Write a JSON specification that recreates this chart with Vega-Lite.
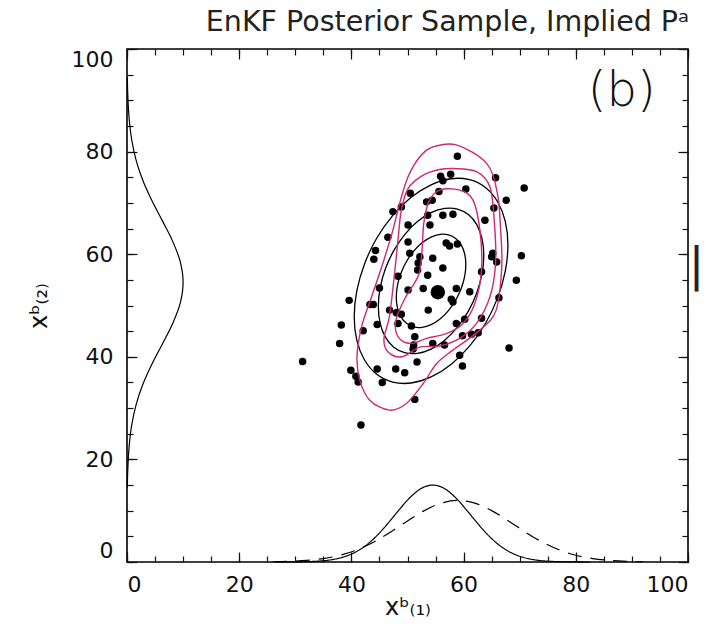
{
  "$schema": "https://vega.github.io/schema/vega-lite/v6.json",
  "width": 561,
  "height": 513,
  "autosize": {"type": "none"},
  "padding": {"left": 127, "top": 49, "right": 35, "bottom": 73},
  "background": "white",
  "config": {
    "view": {"stroke": "#000", "strokeWidth": 1.6},
    "axis": {"grid": false, "domain": false, "labelFont": "DejaVu Sans", "titleFont": "DejaVu Sans", "labelColor": "#111", "titleColor": "#111", "tickColor": "#111", "tickWidth": 1.2, "titleFontWeight": "normal"}
  },
  "title": {"text": "EnKF Posterior Sample, Implied Pᵃ", "font": "DejaVu Sans", "fontSize": 28.5, "fontWeight": "normal", "color": "#222", "anchor": "middle", "dx": 40, "offset": 12},
  "datasets": {
    "ens": [
      {"x":58.9,"y":79.1},{"x":55.9,"y":75.2},{"x":56.3,"y":74.3},{"x":57.7,"y":75.6},{"x":65.7,"y":74.9},{"x":70.8,"y":72.9},{"x":60.4,"y":72.7},{"x":55.6,"y":72.2},{"x":67.6,"y":70.5},{"x":53.4,"y":70.2},{"x":54.4,"y":70.5},{"x":65.4,"y":69.0},{"x":50.5,"y":71.9},{"x":53.6,"y":67.6},{"x":56.3,"y":67.6},{"x":58.1,"y":67.8},{"x":54.0,"y":65.7},{"x":63.8,"y":66.6},{"x":56.9,"y":62.2},{"x":57.5,"y":61.6},{"x":58.9,"y":62.0},{"x":65.2,"y":60.2},{"x":70.3,"y":59.7},{"x":65.0,"y":59.5},{"x":65.9,"y":58.5},{"x":52.2,"y":59.5},{"x":51.9,"y":58.3},{"x":54.5,"y":59.2},{"x":56.3,"y":57.3},{"x":51.8,"y":56.9},{"x":53.6,"y":55.9},{"x":63.2,"y":56.6},{"x":69.4,"y":54.9},
      {"x":48.9,"y":69.2},{"x":47.4,"y":68.3},{"x":50.1,"y":65.7},{"x":46.5,"y":63.3},{"x":44.3,"y":60.7},{"x":44.0,"y":59.0},{"x":50.1,"y":62.4},{"x":50.4,"y":60.2},{"x":48.3,"y":55.7},
      {"x":45.0,"y":53.4},{"x":50.1,"y":53.0},{"x":39.6,"y":51.0},{"x":43.3,"y":50.2},{"x":43.9,"y":50.2},{"x":46.8,"y":49.1},{"x":48.0,"y":48.6},{"x":48.9,"y":48.3},{"x":38.2,"y":46.2},{"x":44.6,"y":46.3},{"x":48.3,"y":46.5},{"x":50.7,"y":46.0},{"x":42.1,"y":45.1},{"x":37.9,"y":42.6},{"x":51.1,"y":42.3},{"x":31.3,"y":39.1},{"x":39.9,"y":37.4},{"x":40.8,"y":36.2},{"x":41.2,"y":35.1},{"x":44.6,"y":37.6},{"x":47.9,"y":37.6},{"x":49.5,"y":36.9},{"x":45.5,"y":35.0},{"x":51.3,"y":31.7},{"x":41.7,"y":26.7},
      {"x":52.8,"y":53.3},{"x":58.7,"y":53.3},{"x":57.8,"y":51.2},{"x":58.1,"y":50.7},{"x":61.1,"y":52.7},{"x":66.3,"y":51.5},{"x":53.7,"y":49.1},{"x":58.7,"y":46.5},{"x":60.2,"y":47.3},{"x":63.2,"y":47.5},{"x":51.3,"y":43.9},{"x":59.8,"y":44.1},{"x":61.4,"y":44.4},{"x":62.6,"y":44.7},{"x":51.0,"y":41.5},{"x":54.5,"y":42.6},{"x":56.6,"y":42.3},{"x":51.7,"y":39.0},{"x":59.3,"y":40.3},{"x":68.1,"y":41.7},{"x":59.8,"y":38.2}
    ],
    "mean": [{"x":55.4,"y":52.6}],
    "ell": [
      {"lev":1,"i":0,"x":60.4,"y":58.0},{"lev":1,"i":1,"x":60.19,"y":60.08},{"lev":1,"i":2,"x":59.57,"y":61.82},{"lev":1,"i":3,"x":58.58,"y":63.08},{"lev":1,"i":4,"x":57.3,"y":63.77},{"lev":1,"i":5,"x":55.8,"y":63.86},{"lev":1,"i":6,"x":54.2,"y":63.32},{"lev":1,"i":7,"x":52.6,"y":62.21},{"lev":1,"i":8,"x":51.1,"y":60.59},{"lev":1,"i":9,"x":49.82,"y":58.58},{"lev":1,"i":10,"x":48.83,"y":56.3},{"lev":1,"i":11,"x":48.21,"y":53.93},{"lev":1,"i":12,"x":48.0,"y":51.62},{"lev":1,"i":13,"x":48.21,"y":49.52},{"lev":1,"i":14,"x":48.83,"y":47.78},{"lev":1,"i":15,"x":49.82,"y":46.52},{"lev":1,"i":16,"x":51.1,"y":45.83},{"lev":1,"i":17,"x":52.6,"y":45.74},{"lev":1,"i":18,"x":54.2,"y":46.28},{"lev":1,"i":19,"x":55.8,"y":47.39},{"lev":1,"i":20,"x":57.3,"y":49.01},{"lev":1,"i":21,"x":58.58,"y":51.02},{"lev":1,"i":22,"x":59.57,"y":53.3},{"lev":1,"i":23,"x":60.19,"y":55.67},
      {"lev":2,"i":0,"x":63.6,"y":59.77},{"lev":2,"i":1,"x":63.28,"y":63.04},{"lev":2,"i":2,"x":62.34,"y":65.76},{"lev":2,"i":3,"x":60.85,"y":67.72},{"lev":2,"i":4,"x":58.9,"y":68.8},{"lev":2,"i":5,"x":56.63,"y":68.93},{"lev":2,"i":6,"x":54.2,"y":68.1},{"lev":2,"i":7,"x":51.77,"y":66.36},{"lev":2,"i":8,"x":49.5,"y":63.83},{"lev":2,"i":9,"x":47.55,"y":60.69},{"lev":2,"i":10,"x":46.06,"y":57.15},{"lev":2,"i":11,"x":45.12,"y":53.44},{"lev":2,"i":12,"x":44.8,"y":49.83},{"lev":2,"i":13,"x":45.12,"y":46.56},{"lev":2,"i":14,"x":46.06,"y":43.84},{"lev":2,"i":15,"x":47.55,"y":41.88},{"lev":2,"i":16,"x":49.5,"y":40.8},{"lev":2,"i":17,"x":51.77,"y":40.67},{"lev":2,"i":18,"x":54.2,"y":41.5},{"lev":2,"i":19,"x":56.63,"y":43.24},{"lev":2,"i":20,"x":58.9,"y":45.77},{"lev":2,"i":21,"x":60.85,"y":48.91},{"lev":2,"i":22,"x":62.34,"y":52.45},{"lev":2,"i":23,"x":63.28,"y":56.16},
      {"lev":3,"i":0,"x":67.9,"y":61.8},{"lev":3,"i":1,"x":67.43,"y":66.41},{"lev":3,"i":2,"x":66.06,"y":70.23},{"lev":3,"i":3,"x":63.89,"y":73.0},{"lev":3,"i":4,"x":61.05,"y":74.52},{"lev":3,"i":5,"x":57.75,"y":74.71},{"lev":3,"i":6,"x":54.2,"y":73.53},{"lev":3,"i":7,"x":50.65,"y":71.08},{"lev":3,"i":8,"x":47.35,"y":67.52},{"lev":3,"i":9,"x":44.51,"y":63.1},{"lev":3,"i":10,"x":42.34,"y":58.11},{"lev":3,"i":11,"x":40.97,"y":52.89},{"lev":3,"i":12,"x":40.5,"y":47.8},{"lev":3,"i":13,"x":40.97,"y":43.19},{"lev":3,"i":14,"x":42.34,"y":39.37},{"lev":3,"i":15,"x":44.51,"y":36.6},{"lev":3,"i":16,"x":47.35,"y":35.08},{"lev":3,"i":17,"x":50.65,"y":34.89},{"lev":3,"i":18,"x":54.2,"y":36.07},{"lev":3,"i":19,"x":57.75,"y":38.52},{"lev":3,"i":20,"x":61.05,"y":42.08},{"lev":3,"i":21,"x":63.89,"y":46.5},{"lev":3,"i":22,"x":66.06,"y":51.49},{"lev":3,"i":23,"x":67.43,"y":56.71}
    ],
    "kde": [
      {"lev":1,"i":0,"x":58.7,"y":81.3},{"lev":1,"i":1,"x":64.1,"y":77.7},{"lev":1,"i":2,"x":66.0,"y":72.0},{"lev":1,"i":3,"x":66.6,"y":64.7},{"lev":1,"i":4,"x":66.8,"y":57.5},{"lev":1,"i":5,"x":65.8,"y":49.1},{"lev":1,"i":6,"x":62.9,"y":45.2},{"lev":1,"i":7,"x":58.1,"y":41.3},{"lev":1,"i":8,"x":55.2,"y":38.7},{"lev":1,"i":9,"x":52.8,"y":34.8},{"lev":1,"i":10,"x":49.8,"y":30.9},{"lev":1,"i":11,"x":46.8,"y":29.6},{"lev":1,"i":12,"x":43.3,"y":31.5},{"lev":1,"i":13,"x":41.5,"y":35.4},{"lev":1,"i":14,"x":41.0,"y":40.0},{"lev":1,"i":15,"x":41.8,"y":45.8},{"lev":1,"i":16,"x":43.6,"y":51.7},{"lev":1,"i":17,"x":45.6,"y":58.2},{"lev":1,"i":18,"x":47.4,"y":64.7},{"lev":1,"i":19,"x":48.6,"y":69.9},{"lev":1,"i":20,"x":50.1,"y":75.1},{"lev":1,"i":21,"x":52.2,"y":79.0},{"lev":1,"i":22,"x":54.5,"y":80.9},
      {"lev":2,"i":0,"x":58.1,"y":76.7},{"lev":2,"i":1,"x":62.3,"y":76.1},{"lev":2,"i":2,"x":64.7,"y":73.1},{"lev":2,"i":3,"x":65.5,"y":66.0},{"lev":2,"i":4,"x":65.7,"y":58.2},{"lev":2,"i":5,"x":64.7,"y":51.7},{"lev":2,"i":6,"x":62.3,"y":46.5},{"lev":2,"i":7,"x":59.3,"y":43.6},{"lev":2,"i":8,"x":55.7,"y":42.1},{"lev":2,"i":9,"x":52.2,"y":41.9},{"lev":2,"i":10,"x":49.0,"y":40.0},{"lev":2,"i":11,"x":46.5,"y":41.0},{"lev":2,"i":12,"x":45.8,"y":43.5},{"lev":2,"i":13,"x":46.8,"y":48.0},{"lev":2,"i":14,"x":47.7,"y":56.3},{"lev":2,"i":15,"x":48.3,"y":62.7},{"lev":2,"i":16,"x":48.9,"y":68.6},{"lev":2,"i":17,"x":50.1,"y":72.8},{"lev":2,"i":18,"x":52.8,"y":75.4},{"lev":2,"i":19,"x":55.7,"y":76.5},
      {"lev":3,"i":0,"x":55.7,"y":72.5},{"lev":3,"i":1,"x":59.3,"y":72.5},{"lev":3,"i":2,"x":61.7,"y":70.5},{"lev":3,"i":3,"x":62.9,"y":64.7},{"lev":3,"i":4,"x":63.2,"y":56.9},{"lev":3,"i":5,"x":62.0,"y":50.4},{"lev":3,"i":6,"x":59.9,"y":46.5},{"lev":3,"i":7,"x":56.9,"y":44.5},{"lev":3,"i":8,"x":53.4,"y":43.6},{"lev":3,"i":9,"x":50.6,"y":42.6},{"lev":3,"i":10,"x":48.4,"y":43.8},{"lev":3,"i":11,"x":47.9,"y":47.0},{"lev":3,"i":12,"x":49.6,"y":51.5},{"lev":3,"i":13,"x":52.0,"y":56.0},{"lev":3,"i":14,"x":52.6,"y":61.0},{"lev":3,"i":15,"x":52.9,"y":66.0},{"lev":3,"i":16,"x":53.8,"y":70.2}
    ],
    "margx": [
      {"c":"solid","x":26.5,"y":0},{"c":"solid","x":30.5,"y":0.03},{"c":"solid","x":34.5,"y":0.2},{"c":"solid","x":36.5,"y":0.45},{"c":"solid","x":38.5,"y":0.94},{"c":"solid","x":40.5,"y":1.8},{"c":"solid","x":42.5,"y":3.16},{"c":"solid","x":44.5,"y":5.09},{"c":"solid","x":46.5,"y":7.51},{"c":"solid","x":48.5,"y":10.17},{"c":"solid","x":50.5,"y":12.62},{"c":"solid","x":52.5,"y":14.37},{"c":"solid","x":54.5,"y":15},{"c":"solid","x":56.5,"y":14.37},{"c":"solid","x":58.5,"y":12.62},{"c":"solid","x":60.5,"y":10.17},{"c":"solid","x":62.5,"y":7.51},{"c":"solid","x":64.5,"y":5.09},{"c":"solid","x":66.5,"y":3.16},{"c":"solid","x":68.5,"y":1.8},{"c":"solid","x":70.5,"y":0.94},{"c":"solid","x":72.5,"y":0.45},{"c":"solid","x":74.5,"y":0.2},{"c":"solid","x":78.5,"y":0.03},{"c":"solid","x":82.5,"y":0},
      {"c":"dashed","x":26,"y":0.05},{"c":"dashed","x":29,"y":0.13},{"c":"dashed","x":32,"y":0.31},{"c":"dashed","x":35,"y":0.67},{"c":"dashed","x":38,"y":1.32},{"c":"dashed","x":41,"y":2.38},{"c":"dashed","x":44,"y":3.9},{"c":"dashed","x":47,"y":5.84},{"c":"dashed","x":50,"y":8.0},{"c":"dashed","x":53,"y":10.02},{"c":"dashed","x":56,"y":11.47},{"c":"dashed","x":59,"y":12},{"c":"dashed","x":62,"y":11.47},{"c":"dashed","x":65,"y":10.02},{"c":"dashed","x":68,"y":8.0},{"c":"dashed","x":71,"y":5.84},{"c":"dashed","x":74,"y":3.9},{"c":"dashed","x":77,"y":2.38},{"c":"dashed","x":80,"y":1.32},{"c":"dashed","x":83,"y":0.67},{"c":"dashed","x":86,"y":0.31},{"c":"dashed","x":89,"y":0.13},{"c":"dashed","x":92,"y":0.05}
    ],
    "margy": [
      {"x":0.06,"y":14.5},{"x":0.16,"y":18.5},{"x":0.38,"y":22.5},{"x":0.81,"y":26.5},{"x":1.58,"y":30.5},{"x":2.78,"y":34.5},{"x":4.41,"y":38.5},{"x":6.31,"y":42.5},{"x":8.15,"y":46.5},{"x":9.5,"y":50.5},{"x":10,"y":54.5},{"x":9.5,"y":58.5},{"x":8.15,"y":62.5},{"x":6.31,"y":66.5},{"x":4.41,"y":70.5},{"x":2.78,"y":74.5},{"x":1.58,"y":78.5},{"x":0.81,"y":82.5},{"x":0.38,"y":86.5},{"x":0.16,"y":90.5},{"x":0.06,"y":94.5}
    ],
    "notes": [{"label":"(b)","x":88.2,"y":91.6}],
    "edge": [{"label":"|","x":101.5,"y":57.7}]
  },
  "resolve": {"axis": {"x": "independent", "y": "independent"}},
  "layer": [
    {
      "data": {"name": "ens"},
      "mark": {"type": "circle", "size": 56, "color": "#000", "opacity": 1},
      "encoding": {
        "x": {"field": "x", "type": "quantitative", "scale": {"domain": [0, 100], "nice": false},
              "axis": {"orient": "bottom", "values": [0, 20, 40, 60, 80, 100], "ticks": false, "labelFontSize": 22, "labelPadding": 12, "title": "xᵇ₍₁₎", "titleFontSize": 24, "titlePadding": 0}},
        "y": {"field": "y", "type": "quantitative", "scale": {"domain": [0, 100], "nice": false},
              "axis": {"orient": "left", "values": [0, 20, 40, 60, 80, 100], "ticks": false, "labelFontSize": 22, "labelPadding": 14, "labelFlush": true, "title": "xᵇ₍₂₎", "titleFontSize": 24, "titlePadding": 20}}
      }
    },
    {
      "data": {"name": "mean"},
      "mark": {"type": "circle", "size": 210, "color": "#000", "opacity": 1},
      "encoding": {
        "x": {"field": "x", "type": "quantitative", "scale": {"domain": [0, 100], "nice": false},
              "axis": {"orient": "bottom", "values": [0,5,10,15,20,25,30,35,40,45,50,55,60,65,70,75,80,85,90,95,100], "labels": false, "tickSize": -6, "title": null}},
        "y": {"field": "y", "type": "quantitative", "scale": {"domain": [0, 100], "nice": false},
              "axis": {"orient": "left", "values": [0,5,10,15,20,25,30,35,40,45,50,55,60,65,70,75,80,85,90,95,100], "labels": false, "tickSize": -6, "title": null}}
      }
    },
    {
      "data": {"name": "ell"},
      "mark": {"type": "line", "color": "#000", "strokeWidth": 1.3, "interpolate": "cardinal-closed"},
      "encoding": {
        "x": {"field": "x", "type": "quantitative", "scale": {"domain": [0, 100], "nice": false},
              "axis": {"orient": "bottom", "values": [0, 20, 40, 60, 80, 100], "labels": false, "tickSize": -10, "title": null}},
        "y": {"field": "y", "type": "quantitative", "scale": {"domain": [0, 100], "nice": false},
              "axis": {"orient": "left", "values": [0, 20, 40, 60, 80, 100], "labels": false, "tickSize": -10, "title": null}},
        "detail": {"field": "lev"},
        "order": {"field": "i", "type": "quantitative"}
      }
    },
    {
      "data": {"name": "kde"},
      "mark": {"type": "line", "color": "#cc2a74", "strokeWidth": 1.4, "interpolate": "cardinal-closed"},
      "encoding": {
        "x": {"field": "x", "type": "quantitative", "scale": {"domain": [0, 100], "nice": false},
              "axis": {"orient": "top", "values": [0,5,10,15,20,25,30,35,40,45,50,55,60,65,70,75,80,85,90,95,100], "labels": false, "tickSize": -6, "title": null}},
        "y": {"field": "y", "type": "quantitative", "scale": {"domain": [0, 100], "nice": false},
              "axis": {"orient": "right", "values": [0,5,10,15,20,25,30,35,40,45,50,55,60,65,70,75,80,85,90,95,100], "labels": false, "tickSize": -6, "title": null}},
        "detail": {"field": "lev"},
        "order": {"field": "i", "type": "quantitative"}
      }
    },
    {
      "data": {"name": "margx"},
      "mark": {"type": "line", "color": "#000", "strokeWidth": 1.2, "interpolate": "monotone"},
      "encoding": {
        "x": {"field": "x", "type": "quantitative", "scale": {"domain": [0, 100], "nice": false},
              "axis": {"orient": "top", "values": [0, 20, 40, 60, 80, 100], "labels": false, "tickSize": -10, "title": null}},
        "y": {"field": "y", "type": "quantitative", "scale": {"domain": [0, 100], "nice": false},
              "axis": {"orient": "right", "values": [0, 20, 40, 60, 80, 100], "labels": false, "tickSize": -10, "title": null}},
        "detail": {"field": "c"},
        "strokeDash": {"field": "c", "type": "nominal", "scale": {"domain": ["solid", "dashed"], "range": [[1, 0], [14, 9]]}, "legend": null}
      }
    },
    {
      "data": {"name": "margy"},
      "mark": {"type": "line", "color": "#000", "strokeWidth": 1.2, "interpolate": "catmull-rom"},
      "encoding": {
        "x": {"field": "x", "type": "quantitative", "scale": {"domain": [0, 100], "nice": false}, "axis": null},
        "y": {"field": "y", "type": "quantitative", "scale": {"domain": [0, 100], "nice": false}, "axis": null},
        "order": {"field": "y", "type": "quantitative"}
      }
    },
    {
      "data": {"name": "notes"},
      "mark": {"type": "text", "font": "DejaVu Sans", "fontSize": 48, "fontWeight": 300, "color": "#111", "align": "center", "baseline": "middle"},
      "encoding": {
        "x": {"field": "x", "type": "quantitative", "scale": {"domain": [0, 100], "nice": false}, "axis": null},
        "y": {"field": "y", "type": "quantitative", "scale": {"domain": [0, 100], "nice": false}, "axis": null},
        "text": {"field": "label"}
      }
    },
    {
      "data": {"name": "edge"},
      "mark": {"type": "text", "font": "DejaVu Sans", "fontSize": 46, "fontWeight": "normal", "color": "#222", "align": "center", "baseline": "middle", "clip": false},
      "encoding": {
        "x": {"field": "x", "type": "quantitative", "scale": {"domain": [0, 100], "nice": false}, "axis": null},
        "y": {"field": "y", "type": "quantitative", "scale": {"domain": [0, 100], "nice": false}, "axis": null},
        "text": {"field": "label"}
      }
    }
  ]
}
